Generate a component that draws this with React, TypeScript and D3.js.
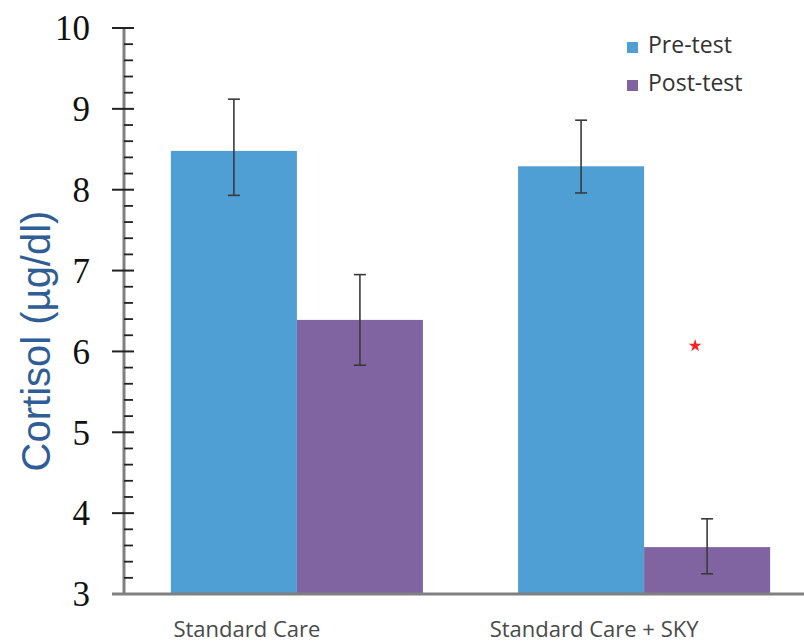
import React, { useEffect, useRef } from 'react';
import * as d3 from 'd3';

// data
const groups = ['Standard Care', 'Standard Care + SKY'];
const seriesNames = ['Pre-test', 'Post-test'];
const preValues = [8.48, 8.29];
const postValues = [6.39, 3.58];
// error bar ends (upper / lower)
const preErrHigh = [9.12, 8.86];
const preErrLow = [7.93, 7.96];
const postErrHigh = [6.95, 3.93];
const postErrLow = [5.83, 3.25];
const yTicks = [3, 4, 5, 6, 7, 8, 9, 10];
const colours = ['#4f9fd5', '#8064a2'];

const App = () => {
    const ref = useRef<SVGSVGElement | null>(null);

    useEffect(() => {
        document.body.style.margin = '0';
        const svg = d3.select(ref.current);
        svg.selectAll('*').remove();

        const axisX = 124;
        const baseY = 594;

        const yScale = d3.scaleLinear().domain([3, 10]).range([baseY, 28]);

        const x0 = d3.scaleBand()
            .domain(groups)
            .range([axisX, 817])
            .paddingInner(0.274)
            .paddingOuter(0.135);

        const x1 = d3.scaleBand()
            .domain(seriesNames)
            .range([0, x0.bandwidth()]);

        const rows = groups.map((g, i) => [
            { g, s: seriesNames[0], v: preValues[i], hi: preErrHigh[i], lo: preErrLow[i], c: colours[0] },
            { g, s: seriesNames[1], v: postValues[i], hi: postErrHigh[i], lo: postErrLow[i], c: colours[1] },
        ]).flat();

        // bars
        svg.append('g')
            .selectAll('rect')
            .data(rows)
            .enter()
            .append('rect')
            .attr('x', (d) => (x0(d.g) as number) + (x1(d.s) as number))
            .attr('y', (d) => yScale(d.v))
            .attr('width', x1.bandwidth())
            .attr('height', (d) => baseY - yScale(d.v))
            .attr('fill', (d) => d.c);

        // error bars
        const err = svg.append('g')
            .attr('stroke', '#3a3a3a')
            .attr('stroke-width', 1.6);
        rows.forEach((d) => {
            const cx = (x0(d.g) as number) + (x1(d.s) as number) + x1.bandwidth() / 2;
            err.append('line').attr('x1', cx).attr('x2', cx).attr('y1', yScale(d.hi)).attr('y2', yScale(d.lo));
            err.append('line').attr('x1', cx - 6).attr('x2', cx + 6).attr('y1', yScale(d.hi)).attr('y2', yScale(d.hi));
            err.append('line').attr('x1', cx - 6).attr('x2', cx + 6).attr('y1', yScale(d.lo)).attr('y2', yScale(d.lo));
        });

        // significance star, a little left of the SKY post-test bar centre
        const skyX = (x0(groups[1]) as number) + (x1(seriesNames[1]) as number) + x1.bandwidth() / 2;
        svg.append('path')
            .attr('d', d3.symbol().type(d3.symbolStar).size(50)())
            .attr('transform', `translate(${skyX - 12}, ${yScale(6.07)})`)
            .attr('fill', '#ff2020');

        // y axis
        const minor = d3.range(3, 10.001, 0.2).filter((v) => Math.abs(v - Math.round(v)) > 0.01);
        svg.append('line')
            .attr('x1', axisX).attr('x2', axisX)
            .attr('y1', yScale(10)).attr('y2', baseY)
            .attr('stroke', '#808080').attr('stroke-width', 3);
        svg.append('g').selectAll('line')
            .data(minor)
            .enter()
            .append('line')
            .attr('x1', axisX).attr('x2', axisX + 9)
            .attr('y1', (d) => yScale(d)).attr('y2', (d) => yScale(d))
            .attr('stroke', '#222').attr('stroke-width', 1.8);
        svg.append('g').selectAll('line')
            .data(yTicks.slice(1))
            .enter()
            .append('line')
            .attr('x1', axisX - 12).attr('x2', axisX + 10)
            .attr('y1', (d) => yScale(d)).attr('y2', (d) => yScale(d))
            .attr('stroke', '#222').attr('stroke-width', 2);
        svg.append('g').selectAll('text')
            .data(yTicks)
            .enter()
            .append('text')
            .attr('x', 90)
            .attr('y', (d) => yScale(d))
            .attr('dy', '0.35em')
            .attr('text-anchor', 'end')
            .attr('font-family', '"Liberation Serif", "DejaVu Serif", serif')
            .attr('font-size', 35)
            .attr('fill', '#111')
            .text((d) => d);

        // x axis line
        svg.append('line')
            .attr('x1', axisX - 12).attr('x2', 804)
            .attr('y1', baseY).attr('y2', baseY)
            .attr('stroke', '#808080').attr('stroke-width', 3);

        // category labels
        svg.append('g').selectAll('text')
            .data(groups)
            .enter()
            .append('text')
            .attr('x', (d) => (x0(d) as number) + x0.bandwidth() / 2 - 50)
            .attr('y', 637)
            .attr('text-anchor', 'middle')
            .attr('font-family', '"Open Sans", sans-serif')
            .attr('font-size', 22)
            .attr('fill', '#4a4a4a')
            .text((d) => d);

        // y axis title
        svg.append('text')
            .attr('transform', 'translate(50, 341) rotate(-90)')
            .attr('text-anchor', 'middle')
            .attr('font-family', '"Liberation Sans", Arial, sans-serif')
            .attr('font-size', 40)
            .attr('fill', '#2f5d96')
            .text('Cortisol (µg/dl)');

        // legend
        const legend = svg.append('g');
        seriesNames.forEach((s, i) => {
            legend.append('rect')
                .attr('x', 627).attr('y', 42 + i * 38)
                .attr('width', 11).attr('height', 11)
                .attr('fill', colours[i]);
            legend.append('text')
                .attr('x', 648).attr('y', 53 + i * 38)
                .attr('font-family', '"Open Sans", sans-serif')
                .attr('font-size', 23)
                .attr('fill', '#333')
                .text(s);
        });
    }, []);

    return <svg ref={ref} width={804} height={644} style={{ display: 'block' }} />;
};

export default App;
